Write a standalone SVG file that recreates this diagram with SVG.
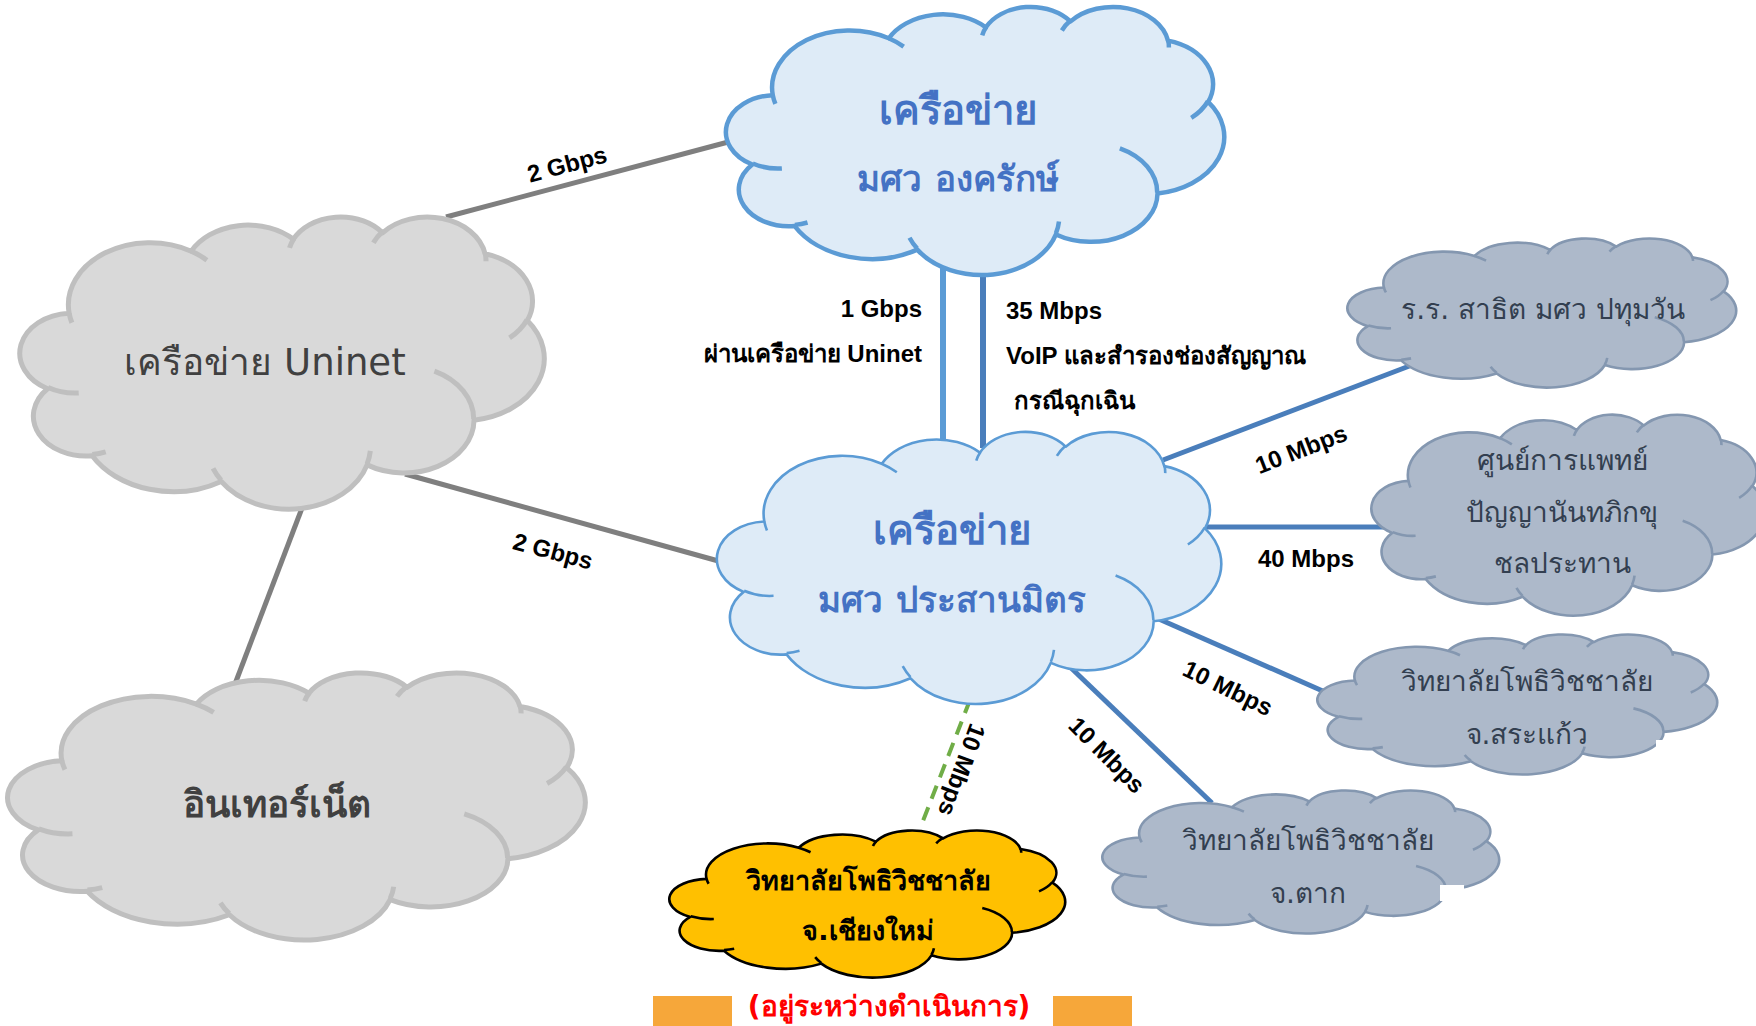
<svg xmlns="http://www.w3.org/2000/svg" width="1756" height="1026" viewBox="0 0 1756 1026">
<style>
symbol path{vector-effect:non-scaling-stroke;stroke-linejoin:round;stroke-linecap:butt}
.blueBig{fill:#DEEBF7;stroke:#5B9BD5;stroke-width:4.5}
.blueMid{fill:#DEEBF7;stroke:#5B9BD5;stroke-width:2.6}
.gray{fill:#D9D9D9;stroke:#BFBFBF;stroke-width:5}
.slate{fill:#ADB9CA;stroke:#8497B0;stroke-width:2.6}
.gold{fill:#FFC000;stroke:#000000;stroke-width:2.6}
.t{font-family:"DejaVu Sans","Noto Sans",sans-serif;text-anchor:middle;dominant-baseline:central}
.title{font-size:40px;font-weight:bold;fill:#4472C4}
.title2{font-size:35px;font-weight:bold;fill:#4472C4}
.gt{fill:#404040;font-size:37px}
.st{fill:#333F50;font-size:28px}
.lab{font-family:"Liberation Sans","DejaVu Sans",sans-serif;font-size:24px;font-weight:bold;fill:#000;dominant-baseline:central}
.cg{stroke:#7F7F7F;stroke-width:5;fill:none}
.cb{stroke:#4A7EBB;stroke-width:5;fill:none}
</style>
<defs>
<symbol id="cloud" viewBox="0 0 43200 43200" preserveAspectRatio="none" overflow="visible">
<path d="M3900,14370 A6753,9190 0 0 1 14006,5203 A5333,7267 0 0 1 22458,3436 A4365,5945 0 0 1 29836,2485 A4857,6595 0 0 1 38321,5581 A5333,7273 0 0 1 41821,15465 A6775,9220 0 0 1 37408,30210 A5785,7867 0 0 1 28560,36820 A6752,9215 0 0 1 16484,39271 A7720,10543 0 0 1 5808,35474 A4360,5918 0 0 1 2118,25551 A4345,5945 0 0 1 3900,14370 Z"/>
<path fill="none" d="M4693,26177 A4345,5945 0 0 1 2160,25380 M6928,34899 A4360,5918 0 0 1 5819,35281 M16478,39090 A6752,9215 0 0 1 15810,37350 M28827,34751 A6752,9215 0 0 1 28560,36661 M34129,22954 A5785,7867 0 0 1 37381,30090 M41798,15354 A5333,7273 0 0 1 40350,18030 M38324,5426 A4857,6595 0 0 1 38400,6690 M29078,3952 A4857,6595 0 0 1 29821,2338 M22141,4720 A4365,5945 0 0 1 22500,3330 M14000,5192 A6753,9190 0 0 1 15301,6542 M4127,15789 A6753,9190 0 0 1 3900,14370"/>
</symbol>
</defs>
<rect width="1756" height="1026" fill="#FFFFFF"/>

<g id="connectors">
<line class="cg" x1="446" y1="217" x2="732" y2="141"/>
<line class="cg" x1="405" y1="474" x2="722" y2="562"/>
<line class="cg" x1="302" y1="508" x2="235" y2="684"/>
<line x1="943" y1="262" x2="943" y2="448" stroke="#5B9BD5" stroke-width="6"/>
<line x1="983" y1="262" x2="983" y2="448" stroke="#4A7EBB" stroke-width="6"/>
<line class="cb" x1="1163" y1="460" x2="1412" y2="365"/>
<line class="cb" x1="1203" y1="527" x2="1385" y2="527"/>
<line class="cb" x1="1152" y1="616" x2="1325" y2="692"/>
<line class="cb" x1="1068" y1="665" x2="1212" y2="803"/>
<line x1="970" y1="700" x2="921" y2="826" stroke="#70AD47" stroke-width="4" stroke-dasharray="14 9"/>
<text class="lab" text-anchor="middle" transform="translate(567,164) rotate(-15)">2 Gbps</text>
<text class="lab" text-anchor="middle" transform="translate(553,551) rotate(15)">2 Gbps</text>
<text class="lab" text-anchor="end" x="922" y="308">1 Gbps</text>
<text class="lab" text-anchor="end" x="922" y="353">ผ่านเครือข่าย Uninet</text>
<text class="lab" x="1006" y="310">35 Mbps</text>
<text class="lab" x="1006" y="355" font-size="23">VoIP และสำรองช่องสัญญาณ</text>
<text class="lab" x="1014" y="400">กรณีฉุกเฉิน</text>
<text class="lab" text-anchor="middle" transform="translate(1301,449) rotate(-21)">10 Mbps</text>
<text class="lab" text-anchor="middle" x="1306" y="558">40 Mbps</text>
<text class="lab" text-anchor="middle" transform="translate(1228,688) rotate(26)">10 Mbps</text>
<text class="lab" text-anchor="middle" transform="translate(1107,755) rotate(45)">10 Mbps</text>
<text class="lab" text-anchor="middle" transform="translate(962,770) rotate(110)">10 Mbps</text>
</g>

<g id="node-ongkharak">
<use href="#cloud" class="blueBig" x="728" y="6" width="496" height="268"/>
<text class="t title" x="958" y="110">เครือข่าย</text>
<text class="t title2" x="958" y="179">มศว องครักษ์</text>
</g>

<g id="node-uninet">
<use href="#cloud" class="gray" x="22" y="216" width="522" height="292"/>
<text class="t gt" x="265" y="362">เครือข่าย Uninet</text>
</g>

<g id="node-internet">
<use href="#cloud" class="gray" x="10" y="672" width="575" height="267"/>
<text class="t gt" font-weight="bold" font-size="38" x="277" y="804">อินเทอร์เน็ต</text>
</g>

<g id="node-prasarnmit">
<use href="#cloud" class="blueMid" x="719" y="431" width="502" height="272"/>
<text class="t title" x="952" y="530">เครือข่าย</text>
<text class="t title2" x="952" y="600">มศว ประสานมิตร</text>
</g>

<g id="node-pathumwan">
<use href="#cloud" class="slate" x="1349" y="238" width="387" height="149"/>
<text class="t st" x="1543" y="309">ร.ร. สาธิต มศว ปทุมวัน</text>
</g>

<g id="node-medical">
<use href="#cloud" class="slate" x="1373" y="414" width="392" height="201"/>
<text class="t st" x="1562" y="460">ศูนย์การแพทย์</text>
<text class="t st" x="1562" y="512">ปัญญานันทภิกขุ</text>
<text class="t st" x="1562" y="563">ชลประทาน</text>
</g>

<g id="node-sakaeo">
<use href="#cloud" class="slate" x="1319" y="634" width="398" height="140"/>
<rect x="1656" y="740" width="26" height="20" fill="#FFFFFF"/>
<text class="t st" x="1527" y="681">วิทยาลัยโพธิวิชชาลัย</text>
<text class="t st" x="1527" y="734">จ.สระแก้ว</text>
</g>

<g id="node-tak">
<use href="#cloud" class="slate" x="1104" y="790" width="395" height="143"/>
<rect x="1440" y="885" width="24" height="16" fill="#FFFFFF"/>
<text class="t st" x="1308" y="840">วิทยาลัยโพธิวิชชาลัย</text>
<text class="t st" x="1308" y="893">จ.ตาก</text>
</g>

<g id="node-chiangmai">
<use href="#cloud" class="gold" x="671" y="830" width="394" height="147"/>
<text class="t" font-size="27" font-weight="bold" fill="#000" x="868" y="880">วิทยาลัยโพธิวิชชาลัย</text>
<text class="t" font-size="27" font-weight="bold" fill="#000" x="868" y="930">จ.เชียงใหม่</text>
</g>

<g id="status">
<rect x="653" y="996" width="79" height="30" fill="#F6A73A"/>
<rect x="1053" y="996" width="79" height="30" fill="#F6A73A"/>
<text class="t" font-size="28" font-weight="bold" fill="#FF0000" x="889" y="1006">(อยู่ระหว่างดำเนินการ)</text>
</g>
</svg>
